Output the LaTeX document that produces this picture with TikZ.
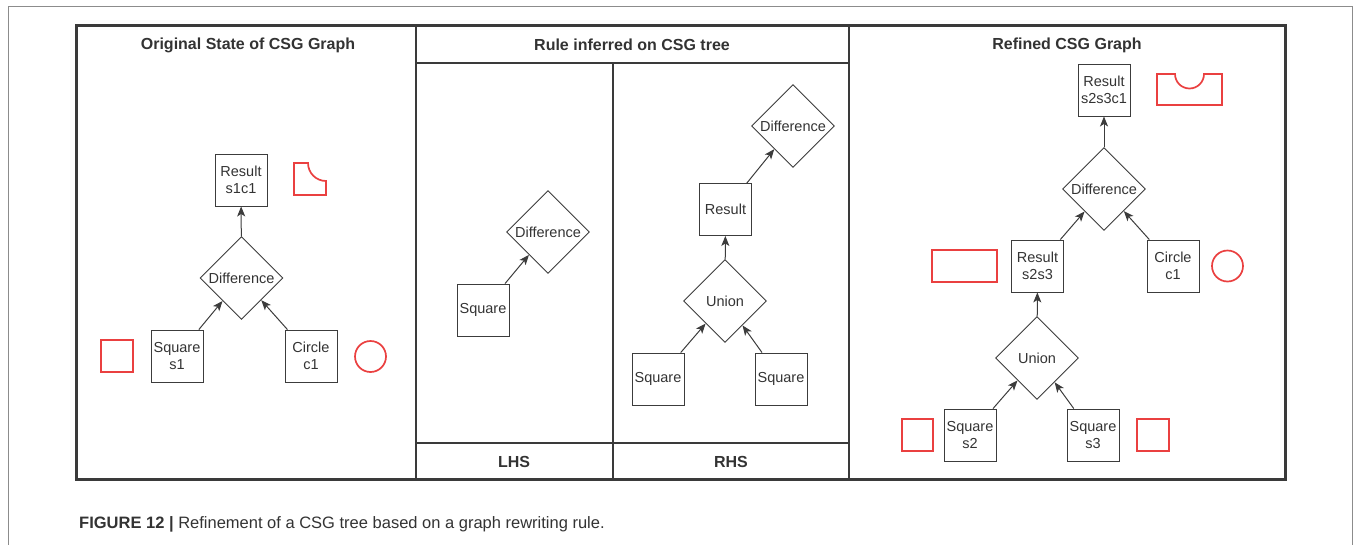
\documentclass[tikz,border=0pt]{standalone}
\usepackage{fontspec}
\setmainfont{Liberation Sans}
\usetikzlibrary{shapes.geometric,arrows.meta}
\definecolor{inkc}{HTML}{333333}
\definecolor{linec}{HTML}{3C3C3C}
\definecolor{framec}{HTML}{3A3A3A}
\definecolor{outerc}{HTML}{8C8C8C}
\definecolor{shapec}{HTML}{EA4040}
\tikzset{
  nodefont/.style={font=\fontsize{14.5}{17}\selectfont},
  box/.style={draw=linec, line width=0.9pt, minimum width=52pt, minimum height=52pt,
    inner sep=0pt, align=center, text=inkc, nodefont},
  op/.style={diamond, draw=linec, line width=0.9pt, aspect=1, minimum width=83pt,
    minimum height=83pt, inner sep=0pt, text=inkc, nodefont},
  arr/.style={draw=linec, line width=1pt, -{Stealth[length=10pt,width=8pt,inset=2.5pt]}},
  csg/.style={draw=shapec, line width=1.7pt},
  head/.style={text=inkc, font=\fontsize{16}{19}\selectfont\bfseries},
  divider/.style={draw=framec, line width=1.5pt},
}
\begin{document}
\begin{tikzpicture}[x=1pt,y=-1pt]
\useasboundingbox (0,0) rectangle (1354,544);

% thin outer page frame
\draw[draw=outerc, line width=1pt] (8,548) -- (8,6) -- (1352,6) -- (1352,548);

% panel grid
\draw[divider] (416,25) -- (416,479);
\draw[divider] (849,25) -- (849,479);
\draw[divider, line width=1.8pt] (416,63) -- (849,63);
\draw[divider] (613,63) -- (613,479);
\draw[divider] (416,443) -- (849,443);
\draw[draw=framec, line width=3pt] (76,25) rectangle (1285,479);

% panel titles
\node[head] (t1) at (248,45) {Original State of CSG Graph};
\node[head] (t2) at (632,45) {Rule inferred on CSG tree};
\node[head] (t3) at (1067,45) {Refined CSG Graph};
\node[head] (lhs) at (514,462) {LHS};
\node[head] (rhs) at (731,462) {RHS};

% ---- original graph
\node[box] (r1) at (241,180) {Result\\s1c1};
\node[op] (d1) at (241.5,278) {Difference};
\node[box] (s1) at (177,356) {Square\\s1};
\node[box] (c1) at (311,356) {Circle\\c1};
\draw[arr] (d1) -- (r1);
\draw[arr] (s1) -- (d1);
\draw[arr] (c1) -- (d1);
\draw[csg] (294,163) -- (294,195) -- (326,195) -- (326,181)
  .. controls (316.06,181) and (308,172.94) .. (308,163) -- cycle;
\draw[csg] (101,340) rectangle (133,372);
\draw[csg] (370.5,356.5) circle[radius=15.5pt];

% ---- rule, left-hand side
\node[box] (ls) at (483,310) {Square};
\node[op] (ld) at (548,232) {Difference};
\draw[arr] (ls) -- (ld);

% ---- rule, right-hand side
\node[op] (rd) at (793,126) {Difference};
\node[box] (rr) at (725.5,209.5) {Result};
\node[op] (ru) at (725,301) {Union};
\node[box] (rs1) at (658,379) {Square};
\node[box] (rs2) at (781,379) {Square};
\draw[arr] (rr) -- (rd);
\draw[arr] (ru) -- (rr);
\draw[arr] (rs1) -- (ru);
\draw[arr] (rs2) -- (ru);

% ---- refined graph
\node[box] (fr) at (1104,90) {Result\\s2s3c1};
\node[op] (fd) at (1104,189) {Difference};
\node[box] (fm) at (1037.5,266) {Result\\s2s3};
\node[box] (fc) at (1173,266) {Circle\\c1};
\node[op] (fu) at (1037,358) {Union};
\node[box] (fs2) at (970,435) {Square\\s2};
\node[box] (fs3) at (1093,435) {Square\\s3};
\draw[arr] (fd) -- (fr);
\draw[arr] (fm) -- (fd);
\draw[arr] (fc) -- (fd);
\draw[arr] (fu) -- (fm);
\draw[arr] (fs2) -- (fu);
\draw[arr] (fs3) -- (fu);
\draw[csg] (1157,74) -- (1175,74)
  .. controls (1175,82.01) and (1181.49,88.5) .. (1189.5,88.5)
  .. controls (1197.51,88.5) and (1204,82.01) .. (1204,74)
  -- (1222,74) -- (1222,105) -- (1157,105) -- cycle;
\draw[csg] (932,250) rectangle (997,282);
\draw[csg] (1227.5,266) circle[radius=15.5pt];
\draw[csg] (902,419) rectangle (933,451);
\draw[csg] (1137,419) rectangle (1169,451);

% caption
\node[anchor=base west, inner sep=0pt, text=inkc, font=\fontsize{16.5}{19}\selectfont]
  (cap) at (79,528) {\textbf{FIGURE 12 |} Refinement of a CSG tree based on a graph rewriting rule.};
\end{tikzpicture}
\end{document}
